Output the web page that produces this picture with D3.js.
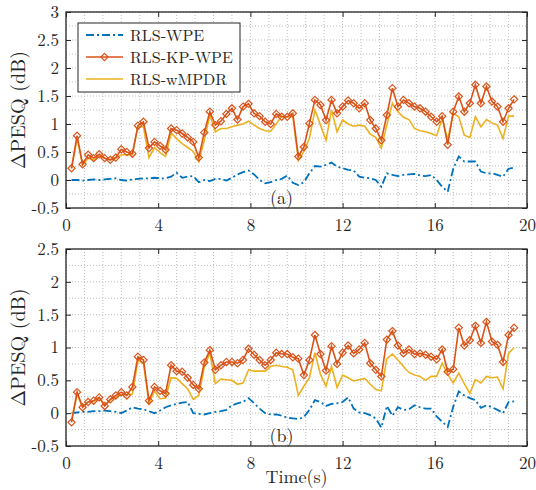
<!DOCTYPE html>
<html lang="en">
  <head>
    <meta charset="utf-8" />
    <title>PESQ improvement</title>
    <script src="https://d3js.org/d3.v7.min.js" charset="utf-8"></script>
    <style>
      body { margin: 0; background: #fff; }
      text { font-family: "Latin Modern Roman", "Liberation Serif", serif; fill: #262626; }
    </style>
  </head>
  <body>
    <div id="graph-container"></div>
    <script type="text/javascript">
      // frame times (s)
      const time = [0.24,0.48,0.72,0.96,1.2,1.44,1.68,1.92,2.16,2.4,2.64,2.88,3.12,3.36,3.6,3.84,4.08,4.32,4.56,4.8,
        5.04,5.28,5.52,5.76,6,6.24,6.48,6.72,6.96,7.2,7.44,7.68,7.92,8.16,8.4,8.64,8.88,9.12,9.36,9.6,
        9.84,10.08,10.32,10.56,10.8,11.04,11.28,11.52,11.76,12,12.24,12.48,12.72,12.96,13.2,13.44,13.68,13.92,14.16,14.4,
        14.64,14.88,15.12,15.36,15.6,15.84,16.08,16.32,16.56,16.8,17.04,17.28,17.52,17.76,18,18.24,18.48,18.72,18.96,19.2,19.44];

      // (a)
      const wpeA = [0,0,-0.01,0,0.01,0,0.01,0.02,0.03,0,-0.01,0.01,0.02,0.03,0.03,0.04,0.03,0.03,0.06,0.13,
        0.04,0.06,0.07,-0.04,0,-0.02,0.02,0.02,-0.01,0.04,0.1,0.14,0.17,0.1,0,-0.06,-0.04,0,0.02,0.08,
        -0.05,-0.09,-0.04,0.12,0.25,0.24,0.27,0.31,0.24,0.21,0.18,0.17,0.06,0.04,0.03,0,-0.12,0.12,0.09,0.07,
        0.09,0.1,0.11,0.08,0.07,0.09,0,-0.12,-0.21,0.2,0.42,0.33,0.33,0.33,0.15,0.12,0.12,0.09,0.06,0.2,0.22];
      const kpA = [0.21,0.79,0.28,0.45,0.39,0.46,0.39,0.36,0.4,0.55,0.5,0.47,0.97,1.04,0.57,0.68,0.61,0.54,0.92,0.89,
        0.83,0.76,0.68,0.4,0.85,1.22,0.98,1.05,1.18,1.28,1.08,1.31,1.36,1.19,1.14,1.04,1,1.18,1.13,1.13,
        1.19,0.42,0.59,1.01,1.43,1.34,1.07,1.43,1.19,1.31,1.42,1.37,1.28,1.37,1.07,0.92,0.71,1.16,1.64,1.31,
        1.43,1.37,1.31,1.28,1.22,1.13,1.04,1.14,0.63,1.22,1.49,1.22,1.37,1.7,1.37,1.67,1.4,1.31,1.04,1.28,1.44];
      const mpdrA = [0.2,0.75,0.27,0.39,0.36,0.42,0.39,0.36,0.39,0.45,0.45,0.45,0.95,0.95,0.4,0.58,0.49,0.42,0.84,0.74,
        0.65,0.58,0.51,0.33,0.71,1.16,0.86,0.92,0.92,0.95,0.98,1,1.05,0.98,0.92,0.88,0.87,1,1.14,1.12,
        1.14,0.35,0.51,0.74,1.25,0.98,0.71,1.25,0.86,1.07,1,0.96,0.98,0.96,0.82,0.76,0.57,0.98,1.37,1.22,
        1.12,1.08,0.92,0.88,0.86,0.83,0.79,1.1,0.72,1.19,1.13,0.8,0.76,1.13,0.95,1.08,1.02,0.98,0.74,1.14,1.14];

      // (b)
      const wpeB = [0,0.01,0.02,0.02,0.03,0.03,0.04,0.03,0.02,0,0.04,0.09,0.07,0.06,0.03,0,0.04,0.09,0.12,0.14,
        0.16,0.17,0,-0.01,-0.02,0,0.02,0.03,0.05,0.12,0.15,0.17,0.23,0.15,0.07,0,-0.02,-0.02,-0.04,-0.07,
        -0.08,-0.09,-0.06,0.05,0.2,0.17,0.11,0.14,0.15,0.17,0.24,0.07,0.01,0,-0.03,-0.08,-0.22,0.11,-0.04,0.09,
        0.05,0.06,0.12,0.09,0.07,0.07,-0.05,-0.13,-0.21,0.1,0.33,0.27,0.23,0.2,0.08,0.12,0.09,0.05,0,0.17,0.18];
      const kpB = [-0.14,0.32,0.09,0.17,0.19,0.24,0.11,0.21,0.27,0.32,0.27,0.4,0.86,0.81,0.19,0.4,0.34,0.3,0.73,0.64,
        0.63,0.54,0.43,0.37,0.77,0.96,0.66,0.73,0.78,0.78,0.76,0.81,0.98,0.89,0.81,0.73,0.81,0.92,0.9,0.9,
        0.85,0.83,0.58,0.81,1.19,0.9,0.65,1.02,0.75,0.92,1.03,0.91,0.97,1.07,0.76,0.66,0.56,1.12,1.25,1.03,
        0.91,0.97,0.9,0.91,0.89,0.86,0.82,0.97,0.63,0.67,1.3,1.03,1.11,1.33,1.07,1.39,1.09,1.04,0.78,1.19,1.3];
      const mpdrB = [-0.1,0.28,0.1,0.17,0.18,0.23,0.13,0.2,0.25,0.28,0.28,0.29,0.8,0.76,0.15,0.34,0.22,0.23,0.54,0.53,
        0.45,0.37,0.21,0.27,0.7,0.92,0.45,0.52,0.51,0.5,0.44,0.46,0.66,0.64,0.64,0.64,0.71,0.73,0.71,0.7,
        0.66,0.27,0.41,0.54,0.92,0.59,0.41,0.71,0.39,0.58,0.54,0.49,0.51,0.53,0.44,0.36,0.34,0.83,0.9,0.81,
        0.71,0.62,0.58,0.56,0.5,0.56,0.56,0.76,0.59,0.46,0.61,0.45,0.3,0.51,0.46,0.56,0.54,0.55,0.37,0.91,1];

      const xTicks = [0, 4, 8, 12, 16, 20];
      const yTicksA = [-0.5, 0, 0.5, 1, 1.5, 2, 2.5, 3];
      const yLabelsA = ["-0.5", "0", "0.5", "1", "1.5", "2", "2.5", "3"];
      const yTicksB = [-0.5, 0, 0.5, 1, 1.5, 2, 2.5];
      const yLabelsB = ["-0.5", "0", "0.5", "1", "1.5", "2", "2.5"];
      const seriesNames = ["RLS-WPE", "RLS-KP-WPE", "RLS-wMPDR"];

      const cBlue = "#0072BD", cRed = "#D95319", cYellow = "#EDB120";
      const cAxis = "#262626";
      const xLeft = 66, xRight = 527;
      const fTick = 17, fLabel = 20, fLegend = 16;
      const fontStack = '"Latin Modern Roman", "Liberation Serif", serif';

      const svg = d3
        .select("#graph-container")
        .append("svg")
        .attr("width", 536)
        .attr("height", 490);

      const xScale = d3.scaleLinear().domain([0, 20]).range([xLeft, xRight]);

      function panel(top, bottom, yMax, yTicks, yLabels, wpe, kp, mpdr, tag) {
        const yScale = d3.scaleLinear().domain([-0.5, yMax]).range([bottom, top]);
        const g = svg.append("g");

        // dotted grid (major + minor)
        const gx = d3.range(0, 20.001, 0.8);
        const gy = d3.range(-0.5, yMax + 0.001, 0.25);
        g.selectAll(".vgrid").data(gx).enter().append("line")
          .attr("x1", d => xScale(d)).attr("x2", d => xScale(d))
          .attr("y1", top).attr("y2", bottom)
          .attr("stroke", "#bdbdbd").attr("stroke-width", 1)
          .attr("stroke-dasharray", "1,2");
        g.selectAll(".hgrid").data(gy).enter().append("line")
          .attr("x1", xLeft).attr("x2", xRight)
          .attr("y1", d => yScale(d)).attr("y2", d => yScale(d))
          .attr("stroke", "#bdbdbd").attr("stroke-width", 1)
          .attr("stroke-dasharray", "1,2");

        const line = d3.line().x((d, i) => xScale(time[i])).y(d => yScale(d));

        g.append("path").datum(wpe).attr("d", line)
          .attr("fill", "none").attr("stroke", cBlue).attr("stroke-width", 1.8)
          .attr("stroke-dasharray", "8,3,2,3");
        g.append("path").datum(mpdr).attr("d", line)
          .attr("fill", "none").attr("stroke", cYellow).attr("stroke-width", 1.6);
        g.append("path").datum(kp).attr("d", line)
          .attr("fill", "none").attr("stroke", cRed).attr("stroke-width", 1.6);
        g.selectAll(".mk").data(kp).enter().append("path")
          .attr("d", "M0,-3.6L3.6,0L0,3.6L-3.6,0Z")
          .attr("transform", (d, i) => `translate(${xScale(time[i])},${yScale(d)})`)
          .attr("fill", "none").attr("stroke", cRed).attr("stroke-width", 1.2);

        // axes with inward ticks on all four sides
        const axL = d3.axisLeft(yScale).tickValues(yTicks).tickSize(-5).tickPadding(7)
          .tickFormat((d, i) => yLabels[i]);
        const axR = d3.axisRight(yScale).tickValues(yTicks).tickSize(-5).tickFormat("");
        const axB = d3.axisBottom(xScale).tickValues(xTicks).tickSize(-5).tickPadding(11);
        const axT = d3.axisTop(xScale).tickValues(xTicks).tickSize(-5).tickFormat("");

        [[axL, `translate(${xLeft},0)`], [axR, `translate(${xRight},0)`],
         [axB, `translate(0,${bottom})`], [axT, `translate(0,${top})`]].forEach(([ax, tr]) => {
          const a = g.append("g").attr("transform", tr).call(ax);
          a.attr("font-family", null);
          a.select(".domain").remove();
          a.selectAll("line").attr("stroke", cAxis).attr("stroke-width", 1);
          a.selectAll("text").attr("font-size", fTick).attr("fill", cAxis)
            .style("font-family", fontStack);
        });

        g.append("rect").attr("x", xLeft).attr("y", top)
          .attr("width", xRight - xLeft).attr("height", bottom - top)
          .attr("fill", "none").attr("stroke", cAxis).attr("stroke-width", 1.3);

        g.append("text").attr("transform", `translate(25,${(top + bottom) / 2}) rotate(-90)`)
          .attr("text-anchor", "middle").attr("font-size", fLabel).text("ΔPESQ (dB)");

        g.append("text").attr("x", xScale(9.35)).attr("y", bottom - 4)
          .attr("text-anchor", "middle").attr("font-size", 18).text(tag);

        return g;
      }

      const gA = panel(12, 208, 3, yTicksA, yLabelsA, wpeA, kpA, mpdrA, "(a)");
      panel(249, 446, 2.5, yTicksB, yLabelsB, wpeB, kpB, mpdrB, "(b)");

      svg.append("text").attr("x", (xLeft + xRight) / 2).attr("y", 483)
        .attr("text-anchor", "middle").attr("font-size", 18).text("Time(s)");

      // legend
      const leg = gA.append("g");
      leg.append("rect").attr("x", 78).attr("y", 23).attr("width", 162).attr("height", 69)
        .attr("fill", "#fff").attr("stroke", cAxis).attr("stroke-width", 1);
      const legStyle = [
        { color: cBlue, dash: "8,3,2,3", marker: false },
        { color: cRed, dash: null, marker: true },
        { color: cYellow, dash: null, marker: false }
      ];
      seriesNames.forEach((name, i) => {
        const yy = 35 + i * 22;
        leg.append("line").attr("x1", 86).attr("x2", 123).attr("y1", yy).attr("y2", yy)
          .attr("stroke", legStyle[i].color).attr("stroke-width", i === 0 ? 1.8 : 1.6)
          .attr("stroke-dasharray", legStyle[i].dash);
        if (legStyle[i].marker) {
          leg.append("path").attr("d", "M0,-3.6L3.6,0L0,3.6L-3.6,0Z")
            .attr("transform", `translate(104.5,${yy})`)
            .attr("fill", "none").attr("stroke", cRed).attr("stroke-width", 1.2);
        }
        leg.append("text").attr("x", 130).attr("y", yy + 5.5).attr("font-size", fLegend).text(name);
      });
    </script>
  </body>
</html>
